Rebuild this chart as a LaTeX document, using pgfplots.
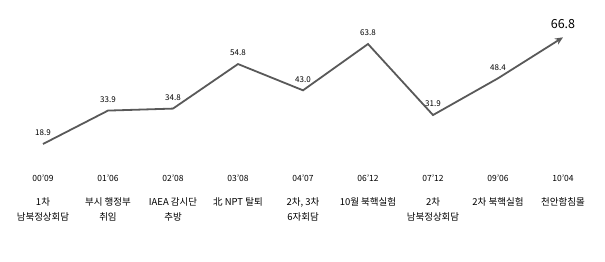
\documentclass[border=0pt]{standalone}
\usepackage{fontspec}
\setmainfont{Noto Sans CJK KR}
\usepackage{pgfplots}
\pgfplotsset{compat=1.18}
\usetikzlibrary{arrows.meta}
\definecolor{lineg}{HTML}{595959}
\begin{document}
\begin{tikzpicture}
\useasboundingbox (0,0) rectangle (605pt,262pt);
\begin{axis}[
  at={(0,0)}, anchor=south west,
  scale only axis, width=605pt, height=262pt,
  xmin=-0.6615, xmax=8.646, ymin=-34.09, ymax=83.56,
  axis line style={draw=none},
  ytick=\empty,
  xtick={0,...,8},
  major tick length=0pt,
  xticklabels={
    {{\fontsize{8.5}{10}\selectfont 00'09}\\[9pt]1차\\남북정상회담},
    {{\fontsize{8.5}{10}\selectfont 01'06}\\[9pt]부시 행정부\\취임},
    {{\fontsize{8.5}{10}\selectfont 02'08}\\[9pt]IAEA 감시단\\추방},
    {{\fontsize{8.5}{10}\selectfont 03'08}\\[9pt]北 NPT 탈퇴},
    {{\fontsize{8.5}{10}\selectfont 04'07}\\[9pt]2차, 3차\\6자회담},
    {{\fontsize{8.5}{10}\selectfont 06'12}\\[9pt]10월 북핵실험},
    {{\fontsize{8.5}{10}\selectfont 07'12}\\[9pt]2차\\남북정상회담},
    {{\fontsize{8.5}{10}\selectfont 09'06}\\[9pt]2차 북핵실험},
    {{\fontsize{8.5}{10}\selectfont 10'04}\\[9pt]천안함침몰}
  },
  xticklabel style={align=center, anchor=north, yshift=91pt, font=\fontsize{9.5}{15}\selectfont, text=black},
  clip=false,
  /pgf/number format/assume math mode=true,
]
\addplot[color=lineg, line width=1.8pt, -{Stealth[length=8pt,width=7pt]},
  nodes near coords, point meta=explicit symbolic,
  nodes near coords style={anchor=center, yshift=11pt, font=\fontsize{8}{9}\selectfont, text=black}]
coordinates {
  (0,18.9) [18.9]
  (1,33.9) [33.9]
  (2,34.8) [34.8]
  (3,54.8) [54.8]
  (4,43.0) [43.0]
  (5,63.8) [63.8]
  (6,31.9) [31.9]
  (7,48.4) [48.4]
  (8,66.8) [{\raisebox{4pt}{\fontsize{12.5}{12}\selectfont 66.8}}]
};
\end{axis}
\end{tikzpicture}
\end{document}
